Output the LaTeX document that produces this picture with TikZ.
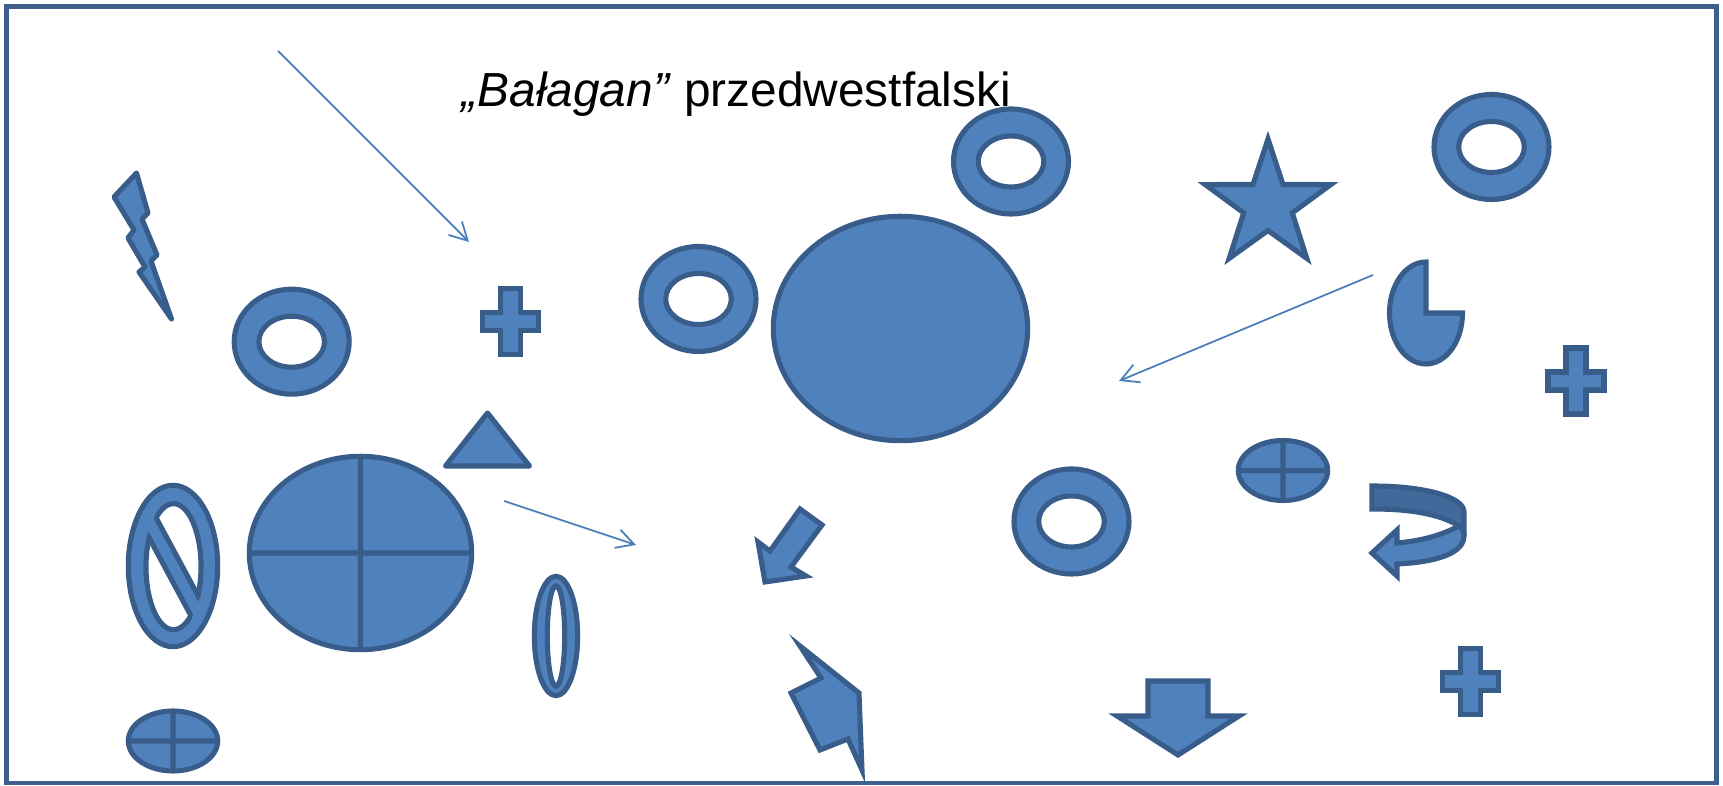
\documentclass[tikz,border=0pt]{standalone}
\usepackage{fontspec}
\setmainfont{Liberation Sans}
\usetikzlibrary{arrows.meta}

\definecolor{piecefill}{HTML}{4F81BD}
\definecolor{pieceline}{HTML}{385D8A}
\definecolor{pieceback}{HTML}{41699A}
\definecolor{pointerblue}{HTML}{4A7EBB}
\definecolor{framecol}{HTML}{3C5F8C}

\begin{document}
\begin{tikzpicture}[
        x=0.01cm, y=-0.01cm,
        piece/.style={fill=piecefill, draw=pieceline, line width=1.45pt},
        hole/.style={fill=white, draw=pieceline, line width=1.45pt},
        sepline/.style={draw=pieceline, line width=1.45pt},
        pointer/.style={-{Straight Barb[length=5pt,width=5.4pt]}, draw=pointerblue, line width=0.5pt}
    ]
        \useasboundingbox (0,0) rectangle (1723,786);

        % Frame
        \draw[framecol, line width=1.4pt] (6.5,6.5) rectangle (1716.5,783);

        % Title
        \node[anchor=base west, inner sep=0pt, font=\fontsize{13.6}{16}\selectfont] (title) at (461,107) {\textit{„Bałagan”} przedwestfalski};

        % Rings
        \foreach \cx/\cy in {291.7/341.7, 698.5/299, 1011/161.5, 1491.5/147, 1071.5/521.5}
            \draw[piece, even odd rule] (\cx,\cy) ellipse (57.5 and 52.5) (\cx,\cy) ellipse (32.8 and 25.5);

        % Plus signs
        \foreach \cx/\cy in {510.5/321.5, 1576/381, 1470.5/681.5}
            \draw[piece] (\cx,\cy) ++(-10,-33) -- ++(20,0) -- ++(0,24) -- ++(18,0) -- ++(0,18) -- ++(-18,0) -- ++(0,24) -- ++(-20,0) -- ++(0,-24) -- ++(-18,0) -- ++(0,-18) -- ++(18,0) -- cycle;

        % Crossed ellipses
        \foreach \cx/\cy in {173/741, 1283/470.5}
            \draw[piece] (\cx,\cy) ellipse (44.7 and 30) (\cx,\cy) ++(-44.7,0) -- ++(89.4,0) (\cx,\cy) ++(0,-30) -- ++(0,60);
        \draw[piece] (360.5,553) ellipse (111.2 and 96.7) (249.3,553) -- (471.7,553) (360.5,456.3) -- (360.5,649.7);

        % Big ellipse
        \draw[piece] (900.5,328.5) ellipse (127.2 and 112.2);

        % Thin ring
        \draw[piece, even odd rule] (556,636) ellipse (21.7 and 59.7) (556,636) ellipse (8.7 and 50.2);

        % No-entry ellipse
        \draw[piece] (173,566) ellipse (44.7 and 80.7);
        \begin{scope}
            \clip (135,478.6) -- (230,655) -- (300,655) -- (300,478.6) -- cycle;
            \draw[hole] (173.5,566.7) ellipse (27.5 and 63);
        \end{scope}
        \begin{scope}
            \clip (117.3,478.6) -- (212,655) -- (50,655) -- (50,478.6) -- cycle;
            \draw[hole] (173.5,566.7) ellipse (27.5 and 63);
        \end{scope}
        \begin{scope}
            \clip (173.5,566.7) ellipse (29.5 and 65);
            \draw[sepline] (135,478.6) -- (230,655) (117.3,478.6) -- (212,655);
        \end{scope}

        % Pie
        \draw[piece] (1426,262) .. controls (1405.8,262) and (1389.5,284.8) .. (1389.5,313)
            .. controls (1389.5,341.2) and (1405.8,364) .. (1426,364)
            .. controls (1446.2,364) and (1462.5,341.2) .. (1462.5,313) -- (1426,313) -- cycle;

        % Triangle and star
        \draw[piece, line join=round] (487.5,413) -- (529.5,466) -- (445.5,466) -- cycle;
        \draw[piece] (1268,139) -- (1283,184.4) -- (1330.8,184.6) -- (1292.3,212.9) -- (1306.8,258.4) -- (1268,230.5) -- (1229.2,258.4) -- (1243.7,212.9) -- (1205.2,184.6) -- (1253,184.4) -- cycle;

        % Lightning
        \draw[piece, line join=round] (136.5,173) -- (148,213) -- (142,219) -- (157,255) -- (151,261) -- (171.5,319) -- (139,272) -- (145,267) -- (128,238) -- (134,230) -- (114,197) -- cycle;

        % Block arrows
        \draw[piece] (800,509) -- (822,525) -- (791,567) -- (806,576) -- (765,582) -- (758,542) -- (770,551) -- cycle;
        \draw[piece] (800,646) -- (859,693) -- (862,770) -- (848,739) -- (820,750) -- (791,693) -- (821,678) -- cycle;
        \draw[piece] (1148,681) -- (1208,681) -- (1208,716) -- (1239,716) -- (1178,755) -- (1117,716) -- (1148,716) -- cycle;

        % Curved arrow
        \draw[piece, fill=pieceback] (1372,486) .. controls (1425,486) and (1464,497) .. (1464,512) -- (1464,536)
            .. controls (1464,531) and (1462,528) .. (1459,526) .. controls (1440,514) and (1410,509) .. (1372,509) -- cycle;
        \draw[piece] (1459,526) .. controls (1440,536) and (1420,541) .. (1397,543) -- (1397,530) -- (1372,553) -- (1397,576) -- (1397,564)
            .. controls (1440,562) and (1464,552) .. (1464,536) .. controls (1464,531) and (1462,528) .. (1459,526) -- cycle;

        % Pointers
        \coordinate (ptrAfrom) at (278,51);
        \coordinate (ptrAto) at (469,242);
        \coordinate (ptrBfrom) at (504,501);
        \coordinate (ptrBto) at (636,545);
        \coordinate (ptrCfrom) at (1373,275);
        \coordinate (ptrCto) at (1119,381);
        \draw[pointer] (ptrAfrom) -- (ptrAto);
        \draw[pointer] (ptrBfrom) -- (ptrBto);
        \draw[pointer] (ptrCfrom) -- (ptrCto);
    \end{tikzpicture}
\end{document}
